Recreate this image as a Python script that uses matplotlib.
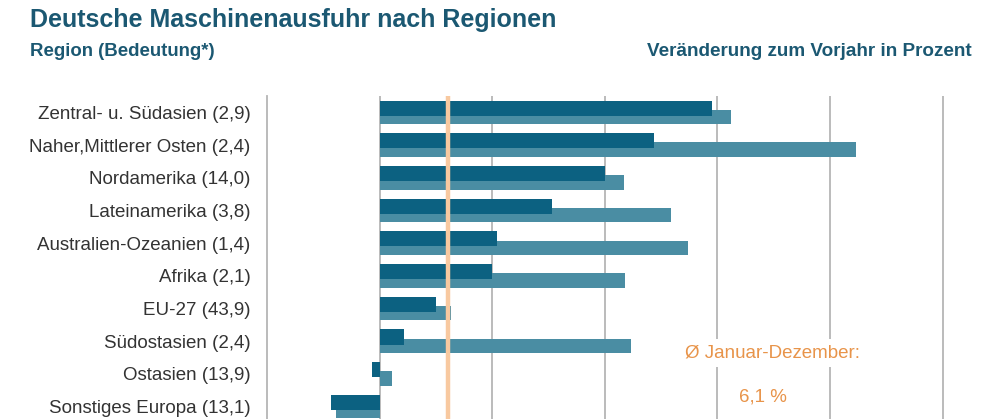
import matplotlib.pyplot as plt

plt.rcParams['font.family'] = ['Liberation Sans', 'DejaVu Sans']

# Daten
regionen = ['Zentral- u. Südasien (2,9)', 'Naher,Mittlerer Osten (2,4)', 'Nordamerika (14,0)',
            'Lateinamerika (3,8)', 'Australien-Ozeanien (1,4)', 'Afrika (2,1)', 'EU-27 (43,9)',
            'Südostasien (2,4)', 'Ostasien (13,9)', 'Sonstiges Europa (13,1)']
werte_dunkel = [29.5, 24.4, 20.0, 15.3, 10.4, 10.0, 5.0, 2.2, -0.7, -4.3]
werte_hell = [31.2, 42.3, 21.7, 25.9, 27.4, 21.8, 6.3, 22.3, 1.1, -3.9]
durchschnitt = 6.1
gitter = [0, 10, 20, 30, 40, 50]

dunkel = '#0c6181'
hell = '#4a8da3'
titel_farbe = '#1b5872'
orange = '#f8c9a0'

fig = plt.figure(figsize=(10, 4.19), dpi=100)
W, H = 1000, 419
# Achse reicht etwas unter den Bildrand, wie im Original abgeschnitten
ax = fig.add_axes([267 / W, (H - 426.3) / H, 687 / W, 330.3 / H])

pos = list(range(len(regionen)))
ax.barh([p + 0.14 for p in pos], werte_hell, height=0.44, color=hell, zorder=2)
ax.barh([p - 0.13 for p in pos], werte_dunkel, height=0.46, color=dunkel, zorder=3)

for g in gitter:
    ax.axvline(g, color='#b5b5b5', lw=1.3, zorder=1)
ax.axvline(durchschnitt, color=orange, lw=3.2, zorder=4)

ax.set_xlim(-10, 51)
ax.set_ylim(9.6, -0.5)
ax.set_yticks(pos)
ax.set_yticklabels(regionen, fontsize=13.5, color='#333333')
ax.tick_params(axis='y', length=0, pad=12)
ax.set_xticks([])
for s in ['top', 'right', 'bottom']:
    ax.spines[s].set_visible(False)
ax.spines['left'].set_color('#b5b5b5')
ax.spines['left'].set_linewidth(1.3)

ax.text(34.9, 7.35, 'Ø Januar-Dezember:', fontsize=13.5, color='#e8944a', ha='center', va='center',
        zorder=5, bbox=dict(facecolor='white', edgecolor='none', pad=4))
ax.text(34.0, 8.69, '6,1 %', fontsize=13.5, color='#e8944a', ha='center', va='center',
        zorder=5, bbox=dict(facecolor='white', edgecolor='none', pad=4))

fig.text(30 / W, 1 - 20 / H, 'Deutsche Maschinenausfuhr nach Regionen', fontsize=18,
         fontweight='bold', color=titel_farbe, va='center')
fig.text(30 / W, 1 - 52 / H, 'Region (Bedeutung*)', fontsize=13.4, fontweight='bold',
         color=titel_farbe, va='center')
fig.text(972 / W, 1 - 52 / H, 'Veränderung zum Vorjahr in Prozent', fontsize=13.6,
         fontweight='bold', color=titel_farbe, va='center', ha='right')

fig.savefig('out.png', dpi=100)
